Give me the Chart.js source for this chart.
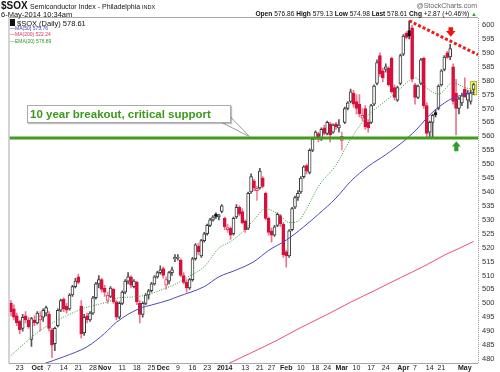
<!DOCTYPE html>
<html><head><meta charset="utf-8">
<script src="https://cdn.jsdelivr.net/npm/chart.js@4.4.1/dist/chart.umd.min.js"></script>
<style>
html,body{margin:0;padding:0;background:#fff;overflow:hidden}
#wrap{position:relative;width:500px;height:372px;font-family:"Liberation Sans",Arial,sans-serif;color:#111}
#c{position:absolute;left:0;top:0}
.t{position:absolute;white-space:nowrap;line-height:1}
#callout{position:absolute;left:27px;top:105px;width:204px;height:18px;box-sizing:border-box;border:1px solid #aaa;background:#fff;box-shadow:1px 1px 1px rgba(0,0,0,.25);font-weight:bold;font-size:11.5px;color:#3b9a1c;line-height:16px;padding-left:2px;white-space:nowrap}
</style></head><body>
<div id="wrap">
<canvas id="c" width="500" height="372"></canvas>
<div class="t" style="left:1px;top:1px;font-size:10px;font-weight:bold">$SOX</div>
<div class="t" style="left:30px;top:2.5px;font-size:7px">Semiconductor Index - Philadelphia <span style="font-size:5.5px">INDX</span></div>
<div class="t" style="left:1px;top:10.5px;font-size:7.5px">6-May-2014 10:34am</div>
<div class="t" style="right:23px;top:2px;font-size:7px;color:#666">@StockCharts.com</div>
<div class="t" id="quote" style="right:23px;top:10.5px;font-size:6.6px"></div>
<div class="t" id="lg1" style="left:10px;top:18.5px;font-size:7.5px"></div>
<div class="t" id="lg2" style="left:10px;top:26px;font-size:5px;color:#3838b0"></div>
<div class="t" id="lg3" style="left:10px;top:32px;font-size:5px;color:#e0305a"></div>
<div class="t" id="lg4" style="left:10px;top:38.5px;font-size:5px;color:#22992a"></div>
<div id="callout">10 year breakout, critical support</div>
</div>
<script>
// ---------- DATA ----------
const monthDays = [
  ['2013-09',[18,19,20,23,24,25,26,27,30]],
  ['2013-10',[1,2,3,4,7,8,9,10,11,14,15,16,17,18,21,22,23,24,25,28,29,30,31]],
  ['2013-11',[1,4,5,6,7,8,11,12,13,14,15,18,19,20,21,22,25,26,27,29]],
  ['2013-12',[2,3,4,5,6,9,10,11,12,13,16,17,18,19,20,23,24,26,27,30,31]],
  ['2014-01',[2,3,6,7,8,9,10,13,14,15,16,17,21,22,23,24,27,28,29,30,31]],
  ['2014-02',[3,4,5,6,7,10,11,12,13,14,18,19,20,21,24,25,26,27,28]],
  ['2014-03',[3,4,5,6,7,10,11,12,13,14,17,18,19,20,21,24,25,26,27,28,31]],
  ['2014-04',[1,2,3,4,7,8,9,10,11,14,15,16,17,21,22,23,24,25,28,29,30]],
  ['2014-05',[1,2,5,6]]
];
const dates = monthDays.flatMap(([m,ds]) => ds.map(d => m + '-' + String(d).padStart(2,'0')));

const opens = [500,498,495.5,493.5,491,495.5,494,487,494,493,494,495,496.5,496,490.5,485.5,492,497.5,501.5,499,
498,503,506,509.5,499,489.5,495.5,494,496.5,502,507,508.5,505.5,501,502.5,505,500.5,495,500,504,
508,509.5,506,507.5,500,496,500,503,504.5,507,509.5,511,512.5,506.5,508,511,516,516.2,515.5,510,
507.5,505.5,508.5,516,520.5,517,522.5,525,528,530,532,531,533,530.5,526.5,527,525,531,534.5,533,
529.5,527,540,544,540.5,541.5,545,539.5,530.5,526,524.5,528,531.5,528.5,518.5,517,526.5,534.5,538,540,
545.5,549.5,547,555,559.5,561,559,563,561,564.5,561.5,564.5,563,558.5,565,570,572.5,575.5,572.5,571.5,
566.5,570,565,565,571.5,579,589,583.5,584,584.5,588,577.5,573,579,589.5,597,598,599,578.5,574,
579,588,571,561.5,565,568.5,570,578.5,584,590,588.5,585,575.5,570,572,577,573,572.5,576.86];
const highs = [501,499.5,496.5,494,496,497,495,495,495.5,497,497,498,499,497,491,491.5,498,501.5,502,500,
503.5,506.5,509,510.5,501,496,496.5,497,502.5,507.5,510,509,506.5,504,506,505.5,501,500.5,504.5,508.5,
511,510,508.5,508,501,500.5,503.5,505,507.5,510,511.5,513.5,513,509.5,511.5,513,517.5,517.5,516,511,
508.5,509,516.5,521.5,521.5,523,525.5,528.5,530.5,531.5,532.5,532,535.5,531,528.5,527.5,531,535.5,535,534,
530,540,546.5,544.5,542,548.5,545.5,540,531,527,528,532.5,532,529,519,526.5,534.5,538.5,540.5,545.5,
549.5,550,555.5,559.5,562,561.5,563,564,565.5,565,564.5,565,566,561.5,570.5,572.5,577,576.5,575,575,
570,571,566,571.5,578.5,587.5,590,584.5,586,585,588.5,578.5,578,589.5,596.5,597.5,601.5,600,579,578.5,
588,588.5,572,565.5,568,569.5,578.5,584,589,590.5,593,586,580.5,574,575.5,581,576.5,576.5,579.13];
const lows = [495.5,494,492,489,490,493,491,484.5,492,492.5,490,493.5,495.5,490,480.5,483,491.5,497,497,496.5,
497.5,502.5,505.5,507,487.5,488.5,493,493.5,496,501.5,505.5,504,502.5,500,502,500,494,494.5,499.5,503.5,
507,505.5,505.5,499.5,493,495,499.5,501.5,504,506.5,509,510.5,509,505,507,510,515,515.5,509.5,507,
504,505,508,515.5,517.5,516.5,522,524.5,527.5,529.5,530.5,530,532.5,526.5,525.5,523,524.5,530.5,531.5,528.5,
525.5,526.5,539.5,540.5,537,541,541.5,530,524.5,522,524,527.5,527.5,516.5,513,516.5,526,534,537,539.5,
545,546.5,546.5,554.5,559,558,558.5,560.5,560.5,558,561,562.5,561.5,555,564.5,569.5,572,570.5,568,567,
565.5,562.5,561.5,564.5,571,578.5,581.5,579.5,583,578,575.5,573,572.5,578.5,589,595,595,579.5,571.5,573.5,
578.5,570,559.5,559.5,559.5,567,569.5,578,583.5,588,587.5,571.5,560.5,568,571,574,570,571.5,574.98];
const closes = [497,495,493,490.5,495,494,491.5,494.5,493,496.5,495.5,497.5,498.5,491,485,491,497.5,501,498,497.5,
503,506,508,507.5,489,495,494,496.5,502,507,508.5,505,504,503,505.5,500.5,495,500,504,508,
509.5,506.5,508,500.5,496,500,503,504.5,507,509.5,511,512,510,508.5,511,512,516.5,516.5,510,507.5,
505.5,508.5,516,521,518.5,522.5,525,528,530,531,531.2,531.8,535,527.5,527.2,524.5,530.5,534.5,532,529,
526.5,539.5,545.5,541.5,541.3,547.5,542,530.5,525.5,524.5,527.5,532,528.5,517.5,517,526,534,538,539.5,545,
549,547.5,555,559,561.5,559,562.5,561,565,560.5,564,563.5,564,560,570,572,576,571.5,570,568,
567.5,563.5,563,571,578,586.5,582.5,581,585,578.5,576,574,577.5,589,596,595.5,596,580.5,574,578,
587.5,571,561,565,567.5,567.8,578,583.5,588.5,588.3,591.5,572.5,570,573.5,574.5,574.2,575.5,575.74,578.61];
const quoteChange = '+2.87 (+0.46%)';

// overlays: [trading-day index, value]
const ma50Idx = [11,18,26,32,36,44,48,54,57,66,71,77,83,88,94,100,105,111,116,122,128,135,139,142,145,151,156,158];
const ma50Val = [478.2,480.8,484.4,489.2,493.2,498.2,499.4,501.2,502.4,506,509.5,512,515,519,522.7,527.5,532,537.8,543.8,549.2,553.4,559,563,566.6,569.6,573.8,575.2,575.76];
const ma200Idx = [74,82,91,99,108,116,125,133,141,148,153,158];
const ma200Val = [478.2,482.2,486.8,491.3,496,500.4,505,509.2,513.3,517.3,519.7,522.24];
const ema20Idx = [0,5,10,16,22,25,29,33,37,42,47,53,56,60,66,71,75,79,83,87,89,92,95,98,101,105,111,116,122,128,132,136,138,140,143,146,151,155,158];
const ema20Val = [481.2,486,490.3,494,497,498.3,499.4,500.5,502,502.3,503.2,505.5,506.8,509.2,513.2,519.8,522.2,525.5,530,534,533.4,531.5,529,529.5,534,542,549.7,559,567.5,572.8,576.2,580,581,579.5,576.5,575.2,579.3,577.5,576.89];

const yTicks = [480,485,490,495,500,505,510,515,520,525,530,535,540,545,550,555,560,565,570,575,580,585,590,595,600];
const xTickDates = ['2013-09-23','2013-10-01','2013-10-07','2013-10-14','2013-10-21','2013-10-28','2013-11-01','2013-11-11','2013-11-18','2013-11-25',
  '2013-12-02','2013-12-09','2013-12-16','2013-12-23','2014-01-02','2014-01-13','2014-01-21','2014-01-27','2014-02-03','2014-02-10',
  '2014-02-18','2014-02-24','2014-03-03','2014-03-10','2014-03-17','2014-03-24','2014-04-01','2014-04-07','2014-04-14','2014-04-21','2014-05-01'];
const xTickText = ['23','Oct','7','14','21','28','Nov','11','18','25','Dec','9','16','23','2014','13','21','27','Feb','10',
  '18','24','Mar','10','17','24','Apr','7','14','21','May'];

const yMin = 478.56, yMax = 602.5;
const supportLevel = 559.4;
const trendFrom = [136, 601.5], trendTo = [159.5, 589.3];
const downArrow = {idx:150.2, top:599.2, mid:597.8, tip:595.8};
const upArrow = {idx:152.1, tip:558.2, mid:556.3, bottom:554.6};
const lastHighlight = [579.7, 574.9];

// ---------- BUILD ----------
const N = dates.length;
const labels = dates.concat(['pad']);
const kinds = closes.map((c,i)=>{
  const prev = i>0 ? closes[i-1] : opens[i];
  const up = c >= opens[i], gain = c >= prev;
  return up ? (gain ? 'hb' : 'hr') : (gain ? 'fb' : 'fr');
});
const bodyBg = {hb:'#ffffff', hr:'#ffffff', fb:'#111111', fr:'#d8103c'};
const bodyBd = {hb:'#3a3a3a', hr:'#e8305a', fb:'#111111', fr:'#d8103c'};
const wickC  = {hb:'#555555', hr:'#f08aa0', fb:'#444444', fr:'#ee7490'};
const last = N-1;
const q = (v)=>v.toFixed(2);
document.getElementById('quote').innerHTML = '<b>Open</b> '+q(opens[last])+' <b>High</b> '+q(highs[last])+' <b>Low</b> '+q(lows[last])+' <b>Last</b> '+q(closes[last])+' <b>Chg</b> '+quoteChange+' <span style="color:#2a2;font-size:6px">&#9650;</span>';
document.getElementById('lg1').innerHTML = '<span style="display:inline-block;width:3px;height:5px;background:#111;border:0.5px solid #111;margin-right:2px;vertical-align:-0.5px"></span>$SOX (Daily) '+q(closes[last]);
document.getElementById('lg2').textContent = '\u2014MA(50) '+q(ma50Val[ma50Val.length-1]);
document.getElementById('lg3').textContent = '\u2014MA(200) '+q(ma200Val[ma200Val.length-1]);
document.getElementById('lg4').textContent = '---EMA(20) '+q(ema20Val[ema20Val.length-1]);

const pts = (idx, val) => idx.map((k,j)=>({x: labels[k], y: val[j]}));
const tickMap = {};
xTickDates.forEach((d,j)=>{ tickMap[dates.indexOf(d)] = xTickText[j]; });

const annot = {
  id:'annot',
  beforeDatasetsDraw(chart){
    const {ctx, scales:{x,y}} = chart;
    const px = x.getPixelForValue(last);
    const y1 = y.getPixelForValue(lastHighlight[0]), y2 = y.getPixelForValue(lastHighlight[1]);
    ctx.save();
    ctx.fillStyle = '#ffff70'; ctx.strokeStyle = '#b8b820'; ctx.lineWidth = 1;
    ctx.fillRect(px-3, y1, 6, y2-y1); ctx.strokeRect(px-3, y1, 6, y2-y1);
    ctx.restore();
  },
  afterDatasetsDraw(chart){
    const {ctx, chartArea:a, scales:{x,y}} = chart;
    ctx.save();
    const sy = y.getPixelForValue(supportLevel);
    ctx.strokeStyle = '#3f9c1c'; ctx.lineWidth = 3;
    ctx.beginPath(); ctx.moveTo(a.left, sy); ctx.lineTo(a.right, sy); ctx.stroke();
    ctx.strokeStyle = '#f01c1c'; ctx.lineWidth = 3; ctx.setLineDash([3,2]);
    ctx.beginPath();
    ctx.moveTo(x.getPixelForValue(trendFrom[0]), y.getPixelForValue(trendFrom[1]));
    ctx.lineTo(x.getPixelForValue(trendTo[0]), y.getPixelForValue(trendTo[1]));
    ctx.stroke(); ctx.setLineDash([]);
    let cx = x.getPixelForValue(downArrow.idx);
    let t = y.getPixelForValue(downArrow.top), m = y.getPixelForValue(downArrow.mid), p = y.getPixelForValue(downArrow.tip);
    ctx.fillStyle = '#ee1515';
    ctx.beginPath();
    ctx.moveTo(cx-2.3, t); ctx.lineTo(cx+2.3, t); ctx.lineTo(cx+2.3, m); ctx.lineTo(cx+4.8, m);
    ctx.lineTo(cx, p); ctx.lineTo(cx-4.8, m); ctx.lineTo(cx-2.3, m); ctx.closePath(); ctx.fill();
    cx = x.getPixelForValue(upArrow.idx);
    p = y.getPixelForValue(upArrow.tip); m = y.getPixelForValue(upArrow.mid); t = y.getPixelForValue(upArrow.bottom);
    ctx.fillStyle = '#2f9e2f';
    ctx.beginPath();
    ctx.moveTo(cx, p); ctx.lineTo(cx+4.4, m); ctx.lineTo(cx+2.1, m); ctx.lineTo(cx+2.1, t);
    ctx.lineTo(cx-2.1, t); ctx.lineTo(cx-2.1, m); ctx.lineTo(cx-4.4, m); ctx.closePath(); ctx.fill();
    ctx.restore();
  },
  afterDraw(chart){
    const {ctx, chartArea:a, scales:{y}} = chart;
    ctx.save();
    ctx.strokeStyle = '#a8a8a8'; ctx.lineWidth = 1;
    ctx.beginPath();
    ctx.moveTo(a.right, a.top-0.5); ctx.lineTo(a.left-0.5, a.top-0.5); ctx.lineTo(a.left-0.5, a.bottom+0.5); ctx.lineTo(a.right, a.bottom+0.5);
    ctx.stroke();
    ctx.setLineDash([1,1]); ctx.strokeStyle = '#999';
    ctx.beginPath(); ctx.moveTo(a.right+0.5, a.top); ctx.lineTo(a.right+0.5, a.bottom+1); ctx.stroke();
    ctx.setLineDash([]);
    const sy = y.getPixelForValue(supportLevel);
    ctx.fillStyle = '#fff'; ctx.strokeStyle = '#9a9a9a';
    ctx.beginPath(); ctx.moveTo(222, 122.5); ctx.lineTo(250, sy-1); ctx.lineTo(230.5, 117); ctx.closePath(); ctx.fill();
    ctx.beginPath(); ctx.moveTo(222, 122.5); ctx.lineTo(250, sy-1); ctx.lineTo(230.5, 117); ctx.stroke();
    ctx.restore();
  }
};

Chart.defaults.font.family = '"Liberation Sans", Arial, sans-serif';
new Chart(document.getElementById('c'), {
  type:'bar',
  data:{
    labels,
    datasets:[
      {type:'line', label:'EMA(20)', data:pts(ema20Idx, ema20Val), borderColor:'#2a9a2a', borderWidth:1, borderDash:[1,1.5], pointRadius:0, cubicInterpolationMode:'monotone', order:0},
      {type:'line', label:'MA(50)', data:pts(ma50Idx, ma50Val), borderColor:'#4a4ab8', borderWidth:1, pointRadius:0, cubicInterpolationMode:'monotone', order:1},
      {type:'line', label:'MA(200)', data:pts(ma200Idx, ma200Val), borderColor:'#e8506e', borderWidth:1, pointRadius:0, cubicInterpolationMode:'monotone', order:2},
      {label:'body', data:opens.map((o,i)=>[o, closes[i]]), backgroundColor:kinds.map(k=>bodyBg[k]), borderColor:kinds.map(k=>bodyBd[k]), borderWidth:1, borderSkipped:false, barThickness:3, minBarLength:1, grouped:false, order:3},
      {label:'wick', data:lows.map((l,i)=>[l, highs[i]]), backgroundColor:kinds.map(k=>wickC[k]), borderWidth:0, barThickness:1, grouped:false, order:4}
    ]
  },
  options:{
    responsive:false, animation:false, devicePixelRatio:1,
    layout:{padding:{left:9.5, top:18, right:0, bottom:0}},
    plugins:{legend:{display:false}, tooltip:{enabled:false}},
    scales:{
      x:{
        offset:true,
        grid:{display:false, drawTicks:false}, border:{display:false},
        afterFit(s){ s.height = 9; },
        afterBuildTicks(s){ s.ticks = Object.keys(tickMap).map(k=>({value:+k})); },
        ticks:{autoSkip:false, maxRotation:0, minRotation:0, padding:1, color:'#222',
          callback:(v)=>tickMap[v] ?? '',
          font:(ctx)=>{ const s = tickMap[ctx.tick && ctx.tick.value]; return {size:7, weight:(s && (isNaN(+s) || s==='2014')) ? 'bold' : 'normal'}; }
        }
      },
      y:{
        position:'right', min:yMin, max:yMax,
        grid:{display:false, drawTicks:false}, border:{display:false},
        afterFit(s){ s.width = 22; },
        afterBuildTicks(s){ s.ticks = yTicks.map(v=>({value:v})); },
        ticks:{padding:4, color:'#333', font:{size:7.5}}
      }
    }
  },
  plugins:[annot]
});
</script>
</body></html>
